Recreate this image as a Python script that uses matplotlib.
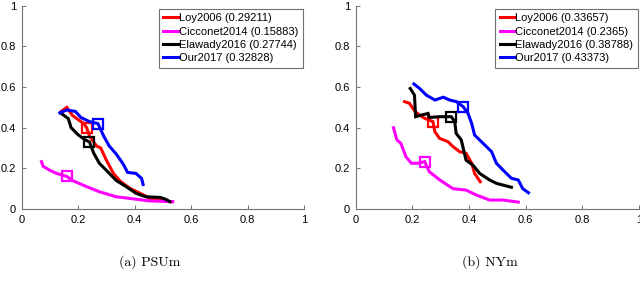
import matplotlib
matplotlib.use("Agg")
import matplotlib.pyplot as plt

# ---------------- data ----------------
names = ["Loy2006", "Cicconet2014", "Elawady2016", "Our2017"]
colors = ["#ff0000", "#ff00ff", "#000000", "#0000ff"]

psum_scores = ["0.29211", "0.15883", "0.27744", "0.32828"]
nym_scores = ["0.33657", "0.2365", "0.38788", "0.43373"]

# PSUm curves (recall, precision)
psum_loy_x = [0.14, 0.16, 0.18, 0.22, 0.23, 0.24, 0.265, 0.28, 0.30, 0.325, 0.35, 0.385, 0.42, 0.455, 0.49, 0.53]
psum_loy_y = [0.48, 0.50, 0.46, 0.42, 0.40, 0.36, 0.31, 0.30, 0.24, 0.175, 0.135, 0.10, 0.077, 0.052, 0.044, 0.036]
psum_cic_x = [0.07, 0.076, 0.10, 0.124, 0.16, 0.18, 0.23, 0.275, 0.335, 0.395, 0.45, 0.535]
psum_cic_y = [0.233, 0.21, 0.19, 0.175, 0.16, 0.14, 0.11, 0.085, 0.06, 0.05, 0.04, 0.036]
psum_ela_x = [0.14, 0.165, 0.175, 0.20, 0.225, 0.24, 0.255, 0.275, 0.30, 0.335, 0.37, 0.405, 0.44, 0.49, 0.51, 0.525]
psum_ela_y = [0.47, 0.445, 0.40, 0.365, 0.34, 0.33, 0.275, 0.225, 0.19, 0.14, 0.11, 0.077, 0.06, 0.057, 0.048, 0.036]
psum_our_x = [0.135, 0.16, 0.19, 0.21, 0.24, 0.27, 0.29, 0.31, 0.335, 0.36, 0.375, 0.405, 0.425, 0.43]
psum_our_y = [0.473, 0.487, 0.48, 0.45, 0.43, 0.42, 0.36, 0.31, 0.27, 0.22, 0.18, 0.175, 0.15, 0.12]
psum_mark_x = [0.23, 0.16, 0.24, 0.27]
psum_mark_y = [0.40, 0.16, 0.33, 0.42]

# NYm curves
nym_loy_x = [0.173, 0.19, 0.21, 0.226, 0.244, 0.273, 0.28, 0.296, 0.326, 0.344, 0.367, 0.39, 0.41, 0.42, 0.44]
nym_loy_y = [0.528, 0.52, 0.48, 0.462, 0.446, 0.43, 0.38, 0.348, 0.331, 0.307, 0.282, 0.274, 0.225, 0.175, 0.134]
nym_cic_x = [0.134, 0.146, 0.16, 0.178, 0.197, 0.22, 0.244, 0.26, 0.297, 0.344, 0.39, 0.426, 0.473, 0.52, 0.574]
nym_cic_y = [0.40, 0.34, 0.323, 0.257, 0.225, 0.225, 0.233, 0.184, 0.143, 0.10, 0.093, 0.069, 0.044, 0.044, 0.034]
nym_ela_x = [0.193, 0.208, 0.212, 0.232, 0.256, 0.26, 0.297, 0.338, 0.35, 0.355, 0.373, 0.39, 0.414, 0.438, 0.473, 0.497, 0.55]
nym_ela_y = [0.593, 0.56, 0.454, 0.462, 0.47, 0.45, 0.454, 0.454, 0.43, 0.372, 0.34, 0.24, 0.216, 0.175, 0.143, 0.126, 0.107]
nym_our_x = [0.206, 0.226, 0.25, 0.28, 0.31, 0.332, 0.356, 0.38, 0.397, 0.41, 0.42, 0.45, 0.48, 0.497, 0.52, 0.55, 0.574, 0.59, 0.61]
nym_our_y = [0.615, 0.593, 0.56, 0.536, 0.55, 0.536, 0.528, 0.503, 0.47, 0.42, 0.364, 0.323, 0.282, 0.225, 0.192, 0.151, 0.143, 0.10, 0.08]
nym_mark_x = [0.273, 0.244, 0.338, 0.38]
nym_mark_y = [0.43, 0.233, 0.454, 0.503]

ticks = [0, 0.2, 0.4, 0.6, 0.8, 1]
tick_labels = ["0", "0.2", "0.4", "0.6", "0.8", "1"]
captions = ["(a) PSUm", "(b) NYm"]

# ---------------- figure ----------------
fig = plt.figure(figsize=(6.4, 2.93), dpi=100)
W, H = 640.0, 293.0
ax1 = fig.add_axes([21.7 / W, 1 - 209 / H, (304 - 21.7) / W, (209 - 5.7) / H])
ax2 = fig.add_axes([355.5 / W, 1 - 209 / H, (639 - 355.5) / W, (209 - 5.7) / H])

panels = [
    (ax1, [(psum_loy_x, psum_loy_y), (psum_cic_x, psum_cic_y), (psum_ela_x, psum_ela_y), (psum_our_x, psum_our_y)],
     psum_mark_x, psum_mark_y, psum_scores),
    (ax2, [(nym_loy_x, nym_loy_y), (nym_cic_x, nym_cic_y), (nym_ela_x, nym_ela_y), (nym_our_x, nym_our_y)],
     nym_mark_x, nym_mark_y, nym_scores),
]

for ax, curves, mx, my, scores in panels:
    handles = []
    for i, (cx, cy) in enumerate(curves):
        h, = ax.plot(cx, cy, color=colors[i], lw=2.2, solid_joinstyle="miter",
                     label=f"{names[i]} ({scores[i]})")
        handles.append(h)
        ax.plot([mx[i]], [my[i]], marker="s", ms=7, mfc="none", mec=colors[i], mew=1.6, ls="none")
    ax.set_xlim(0, 1)
    ax.set_ylim(0, 1)
    ax.set_xticks(ticks)
    ax.set_xticklabels(tick_labels)
    ax.set_yticks(ticks)
    ax.set_yticklabels(tick_labels)
    for s in ["top", "right"]:
        ax.spines[s].set_visible(False)
    for s in ["left", "bottom"]:
        ax.spines[s].set_color("0.45")
        ax.spines[s].set_linewidth(0.8)
    ax.tick_params(direction="in", length=3, width=0.7, color="0.45", labelsize=8, pad=4)
    for lab in ax.get_xticklabels() + ax.get_yticklabels():
        lab.set_fontfamily("Liberation Sans")
    leg = ax.legend(handles=handles, loc="upper right", bbox_to_anchor=(0.995, 0.985),
                    borderaxespad=0, fancybox=False, frameon=True, handlelength=1.4,
                    handletextpad=0.0, borderpad=0.4, labelspacing=0.3,
                    prop={"family": "Liberation Sans", "size": 8})
    leg.get_frame().set_edgecolor("0.3")
    leg.get_frame().set_linewidth(0.8)

fig.text(150 / W, 1 - 262 / H, captions[0], ha="center", va="center", family="cmr10", fontsize=10)
fig.text(490 / W, 1 - 262 / H, captions[1], ha="center", va="center", family="cmr10", fontsize=10)

fig.savefig("out.png", dpi=100)
